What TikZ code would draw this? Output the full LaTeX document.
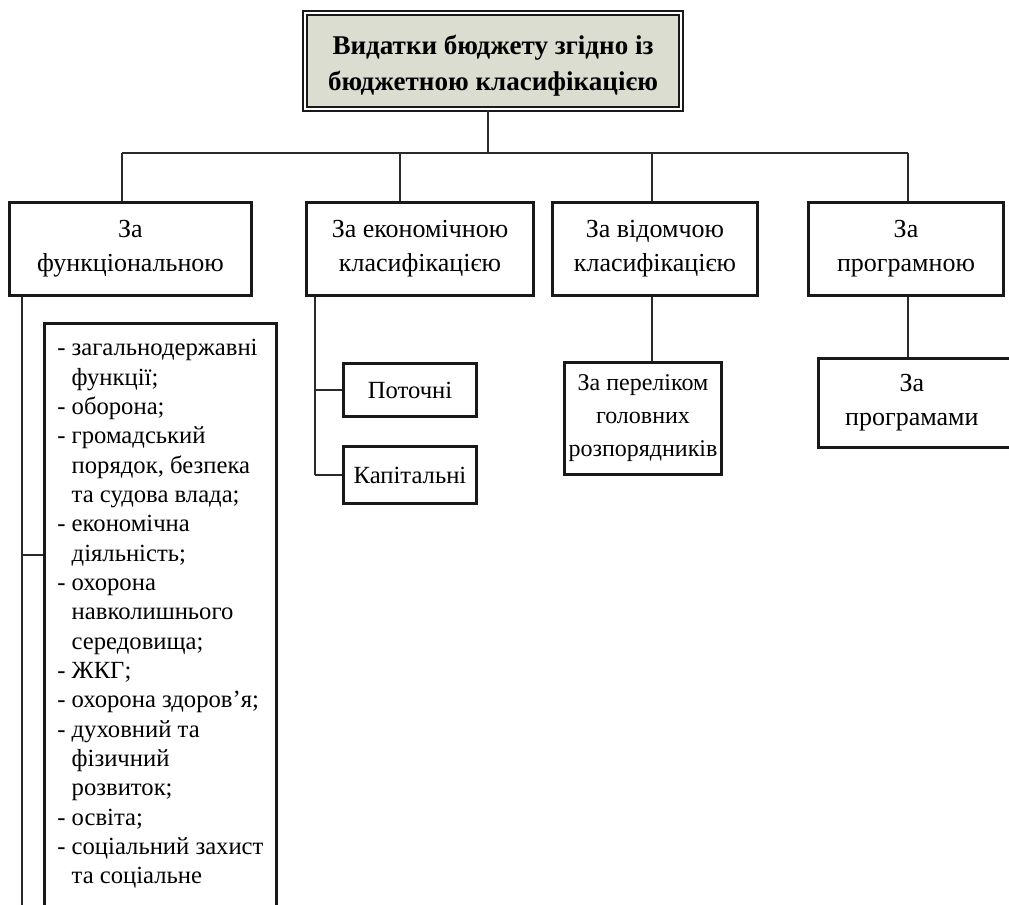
\documentclass[tikz,border=0pt]{standalone}
\usepackage{fontspec}
\setmainfont{Liberation Serif}
\definecolor{topgrey}{HTML}{DCDDD1}
\definecolor{linegrey}{HTML}{2A2A2A}
\begin{document}
\begin{tikzpicture}[
    x=0.75pt, y=-0.75pt,
    topbox/.style={rectangle, draw=black!90, line width=1.6pt, double=white, double distance=1.4pt, fill=topgrey, minimum width=282pt, minimum height=72pt, align=center, font=\fontsize{20.3}{27}\selectfont\bfseries},
    box/.style={rectangle, draw=black!90, line width=2.25pt, fill=white, align=center, inner sep=0pt, font=\fontsize{19.5}{25.5}\selectfont},
    listbox/.style={rectangle, draw=black!90, line width=2.25pt, fill=white, inner sep=0pt, font=\fontsize{18.5}{22}\selectfont},
    conn/.style={draw=linegrey, line width=0.8pt}
]
    \useasboundingbox (0,0) rectangle (1009,905);
    \clip (0,0) rectangle (1009,905);

    % Top node
    \node[topbox] (top) at (493,61) {\rule{0pt}{22pt}Видатки бюджету згідно із\\бюджетною класифікацією};

    % Classification kinds
    \node[box, minimum width=181.5pt, minimum height=69.75pt] (func) at (130.5,249) {За\\функціональною};
    \node[box, minimum width=170.25pt, minimum height=69.75pt] (econ) at (420,249) {За економічною\\класифікацією};
    \node[box, minimum width=153.75pt, minimum height=69.75pt] (dept) at (655,249) {За відомчою\\класифікацією};
    \node[box, minimum width=146.25pt, minimum height=69.75pt] (prog) at (906,249) {За\\програмною};

    % Sub-items
    \node[listbox, anchor=north] (funclist) at (160,322) {\hspace*{10pt}\parbox[t][620pt][t]{164pt}{\vspace*{12pt}%
        - загальнодержавні\\\hphantom{- }функції;\\
        - оборона;\\
        - громадський\\\hphantom{- }порядок, безпека\\\hphantom{- }та судова влада;\\
        - економічна\\\hphantom{- }діяльність;\\
        - охорона\\\hphantom{- }навколишнього\\\hphantom{- }середовища;\\
        - ЖКГ;\\
        - охорона здоров\symbol{39}я;\\
        - духовний та\\\hphantom{- }фізичний\\\hphantom{- }розвиток;\\
        - освіта;\\
        - соціальний захист\\\hphantom{- }та соціальне}};
    \node[box, minimum width=100pt, minimum height=39.75pt, font=\fontsize{18.5}{25}\selectfont] (curr) at (410,390) {Поточні};
    \node[box, minimum width=100pt, minimum height=42.75pt, font=\fontsize{18.5}{25}\selectfont] (capit) at (410,475) {Капітальні};
    \node[box, minimum width=118pt, minimum height=84pt, font=\fontsize{18}{24.8}\selectfont] (heads) at (643,418) {За переліком\\головних\\розпорядників};
    \node[box, anchor=west, minimum height=67pt] (progs) at (817,403) {\hspace*{17pt}\parbox{106pt}{\centering За\\програмами}\hspace*{80pt}};

    % Bus coordinates
    \coordinate (d1) at (122,153);
    \coordinate (d2) at (400,153);
    \coordinate (d3) at (652,153);
    \coordinate (d4) at (908,153);
    \coordinate (fline) at (22,1000);
    \coordinate (fstub) at (22,555);
    \coordinate (eline) at (315,300);

    % Connectors
    \draw[conn] (top.south -| 488,0) -- (d1 -| 488,0);
    \draw[conn] (d1) -- (d4);
    \draw[conn] (d1) -- (d1 |- func.north);
    \draw[conn] (d2) -- (d2 |- econ.north);
    \draw[conn] (d3) -- (d3 |- dept.north);
    \draw[conn] (d4) -- (d4 |- prog.north);

    \draw[conn] (fline |- func.south) -- (fline);
    \draw[conn] (fstub) -- (fstub -| funclist.west);

    \draw[conn] (eline |- econ.south) -- (eline |- capit.west);
    \draw[conn] (eline |- curr.west) -- (curr.west);
    \draw[conn] (eline |- capit.west) -- (capit.west);

    \draw[conn] (d3 |- dept.south) -- (d3 |- heads.north);
    \draw[conn] (d4 |- prog.south) -- (d4 |- progs.north);
\end{tikzpicture}
\end{document}
